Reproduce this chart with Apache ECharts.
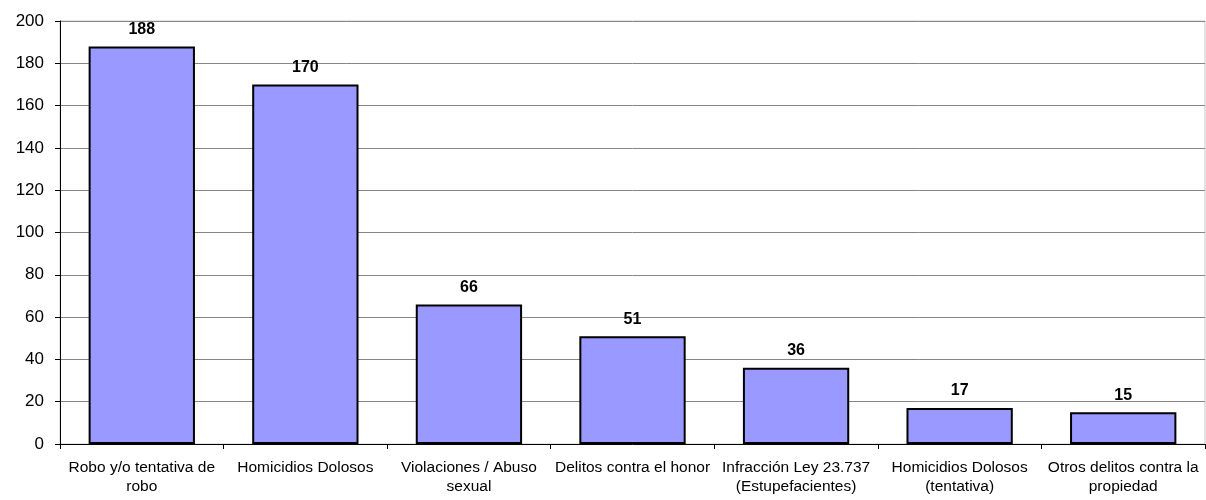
<!DOCTYPE html>
<html><head><meta charset="utf-8">
<script src="https://cdn.jsdelivr.net/npm/echarts@6/dist/echarts.min.js"></script>
<style>html,body{margin:0;padding:0;background:#fff}#c{width:1206px;height:500px}</style>
</head><body><div id="c"></div>
<script>
const categories = ["Robo y/o tentativa de\nrobo","Homicidios Dolosos","Violaciones / Abuso\nsexual","Delitos contra el honor","Infracción Ley 23.737\n(Estupefacientes)","Homicidios Dolosos\n(tentativa)","Otros delitos contra la\npropiedad"];
const values = [188,170,66,51,36,17,15];
const yTicks = {min:0,max:200,interval:20};
const chart = echarts.init(document.getElementById('c'));
const font = '"Liberation Sans", Arial, sans-serif';
chart.setOption({
  animation:false,
  grid:{left:60,right:1,top:21,bottom:56,show:true,borderColor:'#c8c8c8',borderWidth:1},
  xAxis:{type:'category',data:categories,
    axisLine:{lineStyle:{color:'#000',width:1}},
    axisTick:{show:true,length:5,lineStyle:{color:'#000'}},
    axisLabel:{color:'#000',fontFamily:font,fontSize:15.5,interval:0,lineHeight:19,margin:14}},
  yAxis:{type:'value',min:yTicks.min,max:yTicks.max,interval:yTicks.interval,
    axisLine:{show:true,lineStyle:{color:'#000'}},
    axisTick:{show:true,length:5,lineStyle:{color:'#000'}},
    splitLine:{lineStyle:{color:'#868686',width:1}},
    axisLabel:{color:'#000',fontFamily:font,fontSize:17,margin:16}},
  series:[{type:'bar',data:values,barWidth:'65%',
    itemStyle:{color:'#9999ff',borderColor:'#000',borderWidth:2},
    label:{show:true,position:'top',distance:9,color:'#000',fontFamily:font,fontSize:16,fontWeight:'bold'}}]
});
</script></body></html>
